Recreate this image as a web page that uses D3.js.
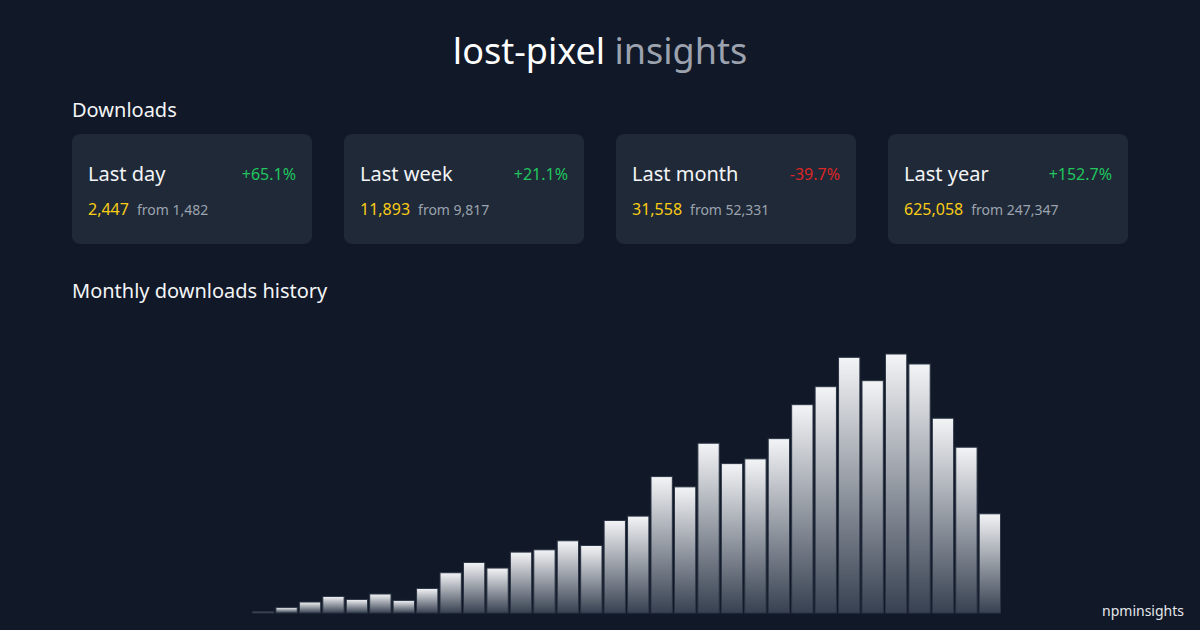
<!DOCTYPE html>
<html>
<head>
<meta charset="utf-8">
<script src="https://cdn.jsdelivr.net/npm/d3@7"></script>
<style>
  body { margin: 0; background: #111827; }
  svg { display: block; font-family: "Noto Sans", sans-serif; }
</style>
</head>
<body>
<div id="chart"></div>
<script>
// data
var packageName = "lost-pixel";
var cardLabels = ["Last day", "Last week", "Last month", "Last year"];
var cardValues = [2447, 11893, 31558, 625058];
var cardPrevious = [1482, 9817, 52331, 247347];
var cardChanges = ["+65.1%", "+21.1%", "-39.7%", "+152.7%"];

// monthly downloads, oldest first
var monthlyDownloads = [
  300, 1480, 2900, 4380, 3590, 5020, 3330, 6490,
  10640, 13360, 11880, 16100, 16710, 19090, 17850, 24450,
  25610, 36060, 33340, 44880, 39490, 40740, 46090, 55070,
  59820, 67580, 61410, 68460, 65820, 51480, 43820, 26220
];

var width = 1200,
  height = 630;

var svg = d3
  .select("#chart")
  .append("svg")
  .attr("width", width)
  .attr("height", height);

svg.append("rect").attr("width", width).attr("height", height).attr("fill", "#111827");

// gradient for the bars
var defs = svg.append("defs");
var grad = defs
  .append("linearGradient")
  .attr("id", "barGrad")
  .attr("x1", 0)
  .attr("y1", 0)
  .attr("x2", 0)
  .attr("y2", 1);
grad.append("stop").attr("offset", "0%").attr("stop-color", "#f3f4f6");
grad.append("stop").attr("offset", "100%").attr("stop-color", "#374151");

// title
var title = svg
  .append("text")
  .attr("x", width / 2)
  .attr("y", 64)
  .attr("text-anchor", "middle")
  .style("font-size", "36px");
title.append("tspan").attr("fill", "#ffffff").text(packageName);
title.append("tspan").attr("fill", "#9ca3af").text(" insights");

// section headings
svg
  .append("text")
  .attr("x", 72)
  .attr("y", 117)
  .attr("fill", "#f3f4f6")
  .style("font-size", "20px")
  .text("Downloads");

svg
  .append("text")
  .attr("x", 72)
  .attr("y", 298)
  .attr("fill", "#f3f4f6")
  .style("font-size", "20px")
  .text("Monthly downloads history");

// cards
var fmt = d3.format(",");
var cardX = d3.scaleBand().domain(d3.range(cardLabels.length)).range([72, 1128]).paddingInner(32 / 272);

var cards = svg
  .selectAll(".card")
  .data(cardLabels)
  .enter()
  .append("g")
  .attr("class", "card")
  .attr("transform", function (d, i) {
    return "translate(" + cardX(i) + ",134)";
  });

cards
  .append("rect")
  .attr("width", cardX.bandwidth())
  .attr("height", 110)
  .attr("rx", 8)
  .attr("ry", 8)
  .attr("fill", "#1f2937");

cards
  .append("text")
  .attr("x", 16)
  .attr("y", 47)
  .attr("fill", "#f3f4f6")
  .style("font-size", "20px")
  .text(function (d) {
    return d;
  });

cards
  .append("text")
  .attr("x", 224)
  .attr("y", 46)
  .attr("text-anchor", "end")
  .attr("fill", function (d, i) {
    return cardChanges[i][0] === "-" ? "#dc2626" : "#22c55e";
  })
  .style("font-size", "16px")
  .text(function (d, i) {
    return cardChanges[i];
  });

var numLine = cards
  .append("text")
  .attr("x", 16)
  .attr("y", 81);
numLine
  .append("tspan")
  .attr("fill", "#facc15")
  .style("font-size", "16px")
  .text(function (d, i) {
    return fmt(cardValues[i]);
  });
numLine
  .append("tspan")
  .attr("dx", 8)
  .attr("fill", "#9ca3af")
  .style("font-size", "14px")
  .text(function (d, i) {
    return "from " + fmt(cardPrevious[i]);
  });

// bars
var x = d3
  .scaleBand()
  .domain(d3.range(monthlyDownloads.length))
  .range([252, 1001])
  .paddingInner(0.09)
  .paddingOuter(0.02);

var y = d3
  .scaleLinear()
  .domain([0, d3.max(monthlyDownloads)])
  .range([613, 354]);

svg
  .append("g")
  .selectAll("rect")
  .data(monthlyDownloads)
  .enter()
  .append("rect")
  .attr("x", function (d, i) {
    return x(i);
  })
  .attr("y", function (d) {
    return y(d);
  })
  .attr("width", x.bandwidth())
  .attr("height", function (d) {
    return Math.max(1, 613 - y(d));
  })
  .attr("fill", "url(#barGrad)")
  .attr("stroke", "#2b3545")
  .attr("stroke-width", 1);

// footer
svg
  .append("text")
  .attr("x", 1184)
  .attr("y", 616)
  .attr("text-anchor", "end")
  .attr("fill", "#e5e7eb")
  .style("font-size", "14px")
  .text("npminsights");
</script>
</body>
</html>
